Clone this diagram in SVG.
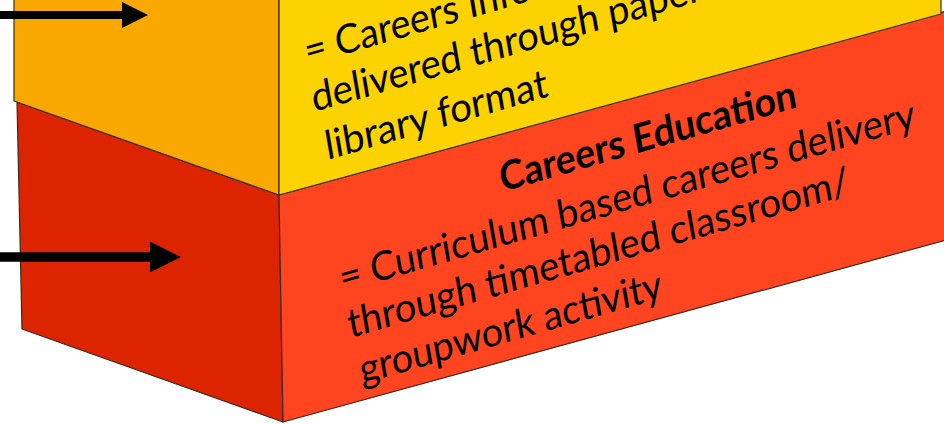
<svg xmlns="http://www.w3.org/2000/svg" width="944" height="424" viewBox="0 0 944 424">
<defs>
<style>
.edge{stroke:#3a2b20;stroke-width:1.2;stroke-linejoin:round}
.t{font-family:Lato,"Open Sans","Liberation Sans",sans-serif;font-size:40px;fill:#000}
.b{font-weight:bold}
.arrow{stroke:#000;fill:none}
</style>
<marker id="head" viewBox="0 0 10 10" refX="0" refY="5" markerWidth="3.25" markerHeight="3.25" orient="auto" markerUnits="strokeWidth">
<path d="M0,0 L10,5 L0,10 Z" fill="#000"/>
</marker>
</defs>
<rect width="944" height="424" fill="#fff"/>
<g id="block-careers-education">
<polygon class="edge" points="17,102 279,195 283,422 22,329" fill="#DD2400"/>
<polygon class="edge" points="279,195 946,11 946,240 283,422" fill="#FF4520"/>
<text class="t b" transform="matrix(0.961 -0.276 0.17 0.985 502 192)" textLength="308" lengthAdjust="spacingAndGlyphs">Careers Education</text>
<text class="t" transform="matrix(0.961 -0.276 0.17 0.985 342 292)" textLength="598" lengthAdjust="spacingAndGlyphs">= Curriculum based careers delivery</text>
<text class="t" transform="matrix(0.961 -0.276 0.17 0.985 350 338)" textLength="521" lengthAdjust="spacingAndGlyphs">through timetabled classroom/</text>
<text class="t" transform="matrix(0.961 -0.276 0.17 0.985 362 384)" textLength="314" lengthAdjust="spacingAndGlyphs">groupwork activity</text>
</g>
<g id="block-careers-information">
<polygon class="edge" points="14,-2 279,-2 279,195 14,101" fill="#F9A800"/>
<polygon class="edge" points="279,-2 941,-2 941,14 279,195" fill="#FCD300"/>
<text class="t" transform="matrix(0.961 -0.276 0.17 0.985 307 65)" textLength="365" lengthAdjust="spacingAndGlyphs">= Careers Information</text>
<text class="t" transform="matrix(0.961 -0.276 0.17 0.985 314 112)" textLength="405" lengthAdjust="spacingAndGlyphs">delivered through paper</text>
<text class="t" transform="matrix(0.961 -0.276 0.17 0.985 327.5 160)" textLength="231" lengthAdjust="spacingAndGlyphs">library format</text>
</g>
<g id="connectors">
<line class="arrow" x1="0" y1="15" x2="122" y2="15" stroke-width="8" marker-end="url(#head)"/>
<line class="arrow" x1="0" y1="257" x2="150" y2="257" stroke-width="9.5" marker-end="url(#head)"/>
</g>
</svg>
